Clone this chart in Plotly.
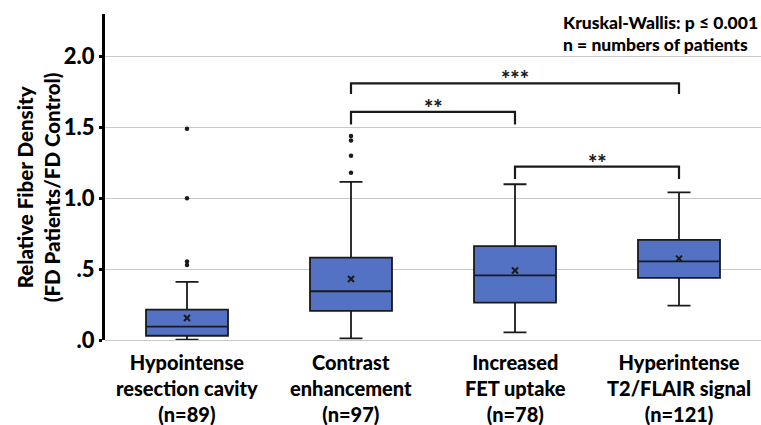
import plotly.graph_objects as go

categories = ["Hypointense<br>resection cavity<br>(n=89)",
              "Contrast<br>enhancement<br>(n=97)",
              "Increased<br>FET uptake<br>(n=78)",
              "Hyperintense<br>T2/FLAIR signal<br>(n=121)"]
q1 = [0.030, 0.205, 0.263, 0.438]
median = [0.094, 0.344, 0.456, 0.555]
q3 = [0.214, 0.581, 0.663, 0.706]
lower_whisker = [0.002, 0.012, 0.054, 0.242]
upper_whisker = [0.410, 1.115, 1.099, 1.042]
means = [0.155, 0.430, 0.490, 0.574]
outliers = [[0.530, 0.553, 1.00, 1.49],
            [1.18, 1.30, 1.407, 1.44],
            [],
            []]
# brackets: (left category index, right category index, top y, drop y, label)
brackets = [(1, 3, 1.81, 1.735, "***"),
            (1, 2, 1.61, 1.52, "**"),
            (2, 3, 1.223, 1.136, "**")]
yticks = [0.0, 0.5, 1.0, 1.5, 2.0]
yticklabels = [".0", ".5", "1.0", "1.5", "2.0"]

FONT = "Lato"
W = 900
BOX_FILL = "#5472C4"
DARK = "#1a1a1a"

fig = go.Figure()
xs = list(range(len(categories)))
for i in xs:
    fig.add_trace(go.Box(
        x=[i], q1=[q1[i]], median=[median[i]], q3=[q3[i]],
        lowerfence=[lower_whisker[i]], upperfence=[upper_whisker[i]],
        width=0.5, whiskerwidth=0.28, fillcolor=BOX_FILL,
        line=dict(color=DARK, width=1.8), boxpoints=False,
        showlegend=False, hoverinfo="skip"))
    if outliers[i]:
        fig.add_trace(go.Scatter(
            x=[i] * len(outliers[i]), y=outliers[i], mode="markers",
            marker=dict(color=DARK, size=4.5), showlegend=False))

fig.add_trace(go.Scatter(
    x=xs, y=means, mode="markers",
    marker=dict(symbol="x-thin", size=6, line=dict(color=DARK, width=2)),
    showlegend=False))

for (a, b, top, drop, lab) in brackets:
    fig.add_trace(go.Scatter(
        x=[a, a, b, b], y=[drop, top, top, drop], mode="lines",
        line=dict(color=DARK, width=2.2), showlegend=False))
    fig.add_annotation(x=(a + b) / 2, y=top, text=lab, showarrow=False,
                       yanchor="bottom", yshift=-11,
                       font=dict(family=FONT, size=22, color=DARK, weight=W))

for i, c in enumerate(categories):
    fig.add_annotation(x=i, xref="x", yref="paper", y=0, yanchor="top", yshift=-8,
                       text=c, showarrow=False, align="center",
                       font=dict(family=FONT, size=20, color="black", weight=W))

fig.add_annotation(xref="paper", yref="paper", x=-0.102, y=0.469,
                   text="Relative Fiber Density<br>(FD Patients/FD Control)",
                   showarrow=False, textangle=-90, xanchor="center", yanchor="middle",
                   font=dict(family=FONT, size=20.5, color="black", weight=W))

fig.add_annotation(xref="paper", yref="paper", x=0.695, y=0.975,
                   text="Kruskal-Wallis: p ≤ 0.001", showarrow=False,
                   xanchor="left", yanchor="middle",
                   font=dict(family=FONT, size=17.5, color="black", weight=W))
fig.add_annotation(xref="paper", yref="paper", x=0.695, y=0.905,
                   text="n = numbers of patients", showarrow=False,
                   xanchor="left", yanchor="middle",
                   font=dict(family=FONT, size=17.5, color="black", weight=W))

fig.update_layout(
    width=761, height=425,
    margin=dict(l=105, r=0, t=14, b=85),
    plot_bgcolor="white", paper_bgcolor="white",
    font=dict(family=FONT, color="black"),
    xaxis=dict(range=[-0.5, 3.5], tickvals=xs, showticklabels=False,
               showgrid=False, zeroline=False, showline=False, ticks=""),
    yaxis=dict(range=[0, 2.3], tickvals=yticks, ticktext=yticklabels,
               tickfont=dict(family=FONT, size=22, color="black", weight=W),
               showgrid=True, gridcolor="#c8c8c8", gridwidth=1.2,
               zeroline=True, zerolinecolor="#c8c8c8", zerolinewidth=1.2,
               showline=True, linecolor="black", linewidth=3,
               ticks="outside", ticklen=3, tickwidth=3, tickcolor="black"),
)

fig.write_html("out.html")
